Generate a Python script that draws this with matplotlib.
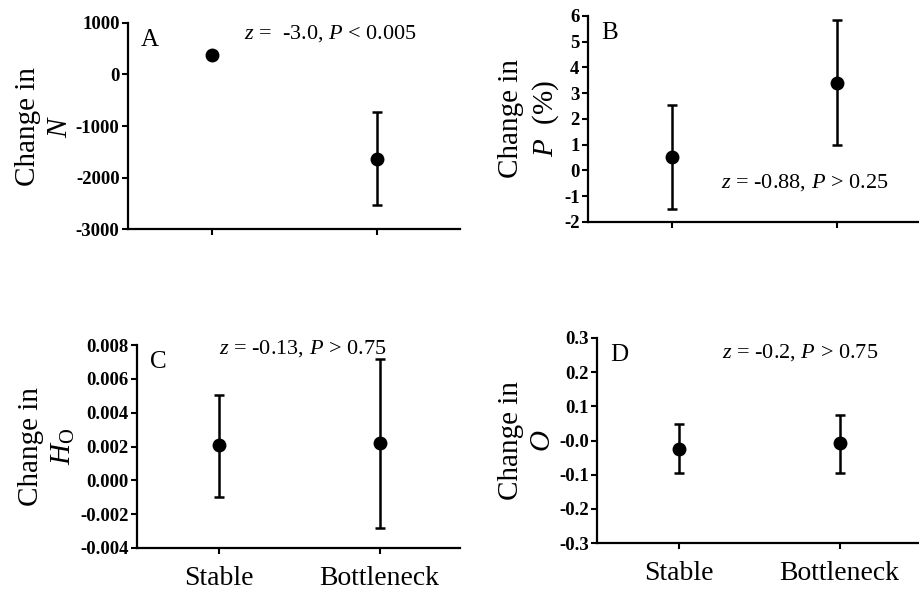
import matplotlib
matplotlib.use("Agg")
import matplotlib.pyplot as plt

plt.rcParams['font.family'] = ['Liberation Serif', 'DejaVu Serif']
plt.rcParams['mathtext.fontset'] = 'custom'
plt.rcParams['mathtext.rm'] = 'Liberation Serif'
plt.rcParams['mathtext.it'] = 'Liberation Serif:italic'
plt.rcParams['axes.unicode_minus'] = False

groups = ["Stable", "Bottleneck"]

# panel A: change in N
n_mean = [380, -1650]
n_low = [380, -2530]
n_high = [380, -735]
n_ticks = [1000, 0, -1000, -2000, -3000]

# panel B: change in P (%)
p_mean = [0.52, 3.4]
p_low = [-1.5, 1.0]
p_high = [2.53, 5.83]
p_ticks = [6, 5, 4, 3, 2, 1, 0, -1, -2]

# panel C: change in Ho
h_mean = [0.0021, 0.0022]
h_low = [-0.00096, -0.0028]
h_high = [0.00505, 0.0072]
h_ticks = [0.008, 0.006, 0.004, 0.002, 0.000, -0.002, -0.004]
h_ticklabels = ["0.008", "0.006", "0.004", "0.002", "0.000", "-0.002", "-0.004"]

# panel D: change in O
o_mean = [-0.026, -0.008]
o_low = [-0.094, -0.094]
o_high = [0.048, 0.075]
o_ticks = [0.3, 0.2, 0.1, 0.0, -0.1, -0.2, -0.3]
o_ticklabels = ["0.3", "0.2", "0.1", "-0.0", "-0.1", "-0.2", "-0.3"]

panels = [
    dict(rect=[0.139, 0.6125, 0.361, 0.3486], mean=n_mean, low=n_low, high=n_high,
         ticks=n_ticks, labels=[str(t) for t in n_ticks], ylabel="Change in\n$N$",
         letter="A", stat="$z$ =  -3.0, $P$ < 0.005", stat_xy=(0.61, 0.95), xlabels=False),
    dict(rect=[0.639, 0.6244, 0.361, 0.3486], mean=p_mean, low=p_low, high=p_high,
         ticks=p_ticks, labels=[str(t) for t in p_ticks], ylabel="Change in\n$P$  (%)",
         letter="B", stat="$z$ = -0.88, $P$ > 0.25", stat_xy=(0.654, 0.19), xlabels=False),
    dict(rect=[0.149, 0.0728, 0.351, 0.3434], mean=h_mean, low=h_low, high=h_high,
         ticks=h_ticks, labels=h_ticklabels, ylabel="Change in\n$H_{\\mathrm{O}}$",
         letter="C", stat="$z$ = -0.13, $P$ > 0.75", stat_xy=(0.514, 0.985), xlabels=True),
    dict(rect=[0.649, 0.0812, 0.351, 0.3469], mean=o_mean, low=o_low, high=o_high,
         ticks=o_ticks, labels=o_ticklabels, ylabel="Change in\n$O$",
         letter="D", stat="$z$ = -0.2, $P$ > 0.75", stat_xy=(0.63, 0.93), xlabels=True),
]

fig = plt.figure(figsize=(9.2, 5.91), dpi=100)

for p in panels:
    ax = fig.add_axes(p["rect"])
    x = [1, 2]
    yerr = [[m - l for m, l in zip(p["mean"], p["low"])],
            [h - m for m, h in zip(p["mean"], p["high"])]]
    ax.errorbar(x, p["mean"], yerr=yerr, fmt='o', color='black', markersize=9,
                elinewidth=1.8, capsize=3.5, capthick=1.8)
    ax.set_xlim(0.49, 2.5)
    ax.set_ylim(min(p["ticks"]), max(p["ticks"]))
    ax.set_yticks(p["ticks"])
    ax.set_yticklabels(p["labels"], fontsize=13.5, fontweight='bold')
    ax.set_xticks(x)
    if p["xlabels"]:
        ax.set_xticklabels(groups, fontsize=20)
    else:
        ax.set_xticklabels([])
    for side in ["top", "right"]:
        ax.spines[side].set_visible(False)
    for side in ["left", "bottom"]:
        ax.spines[side].set_linewidth(1.6)
    ax.tick_params(axis='both', direction='out', length=4, width=1.5, pad=2)
    ax.tick_params(axis='x', pad=9)
    ax.set_ylabel(p["ylabel"], fontsize=21, labelpad=2, linespacing=1.3)
    ax.text(0.04, 0.97, p["letter"], transform=ax.transAxes, fontsize=18,
            ha='left', va='top')
    ax.text(p["stat_xy"][0], p["stat_xy"][1], p["stat"], transform=ax.transAxes,
            fontsize=16, ha='center', va='center')

fig.savefig("out.png", dpi=100)
